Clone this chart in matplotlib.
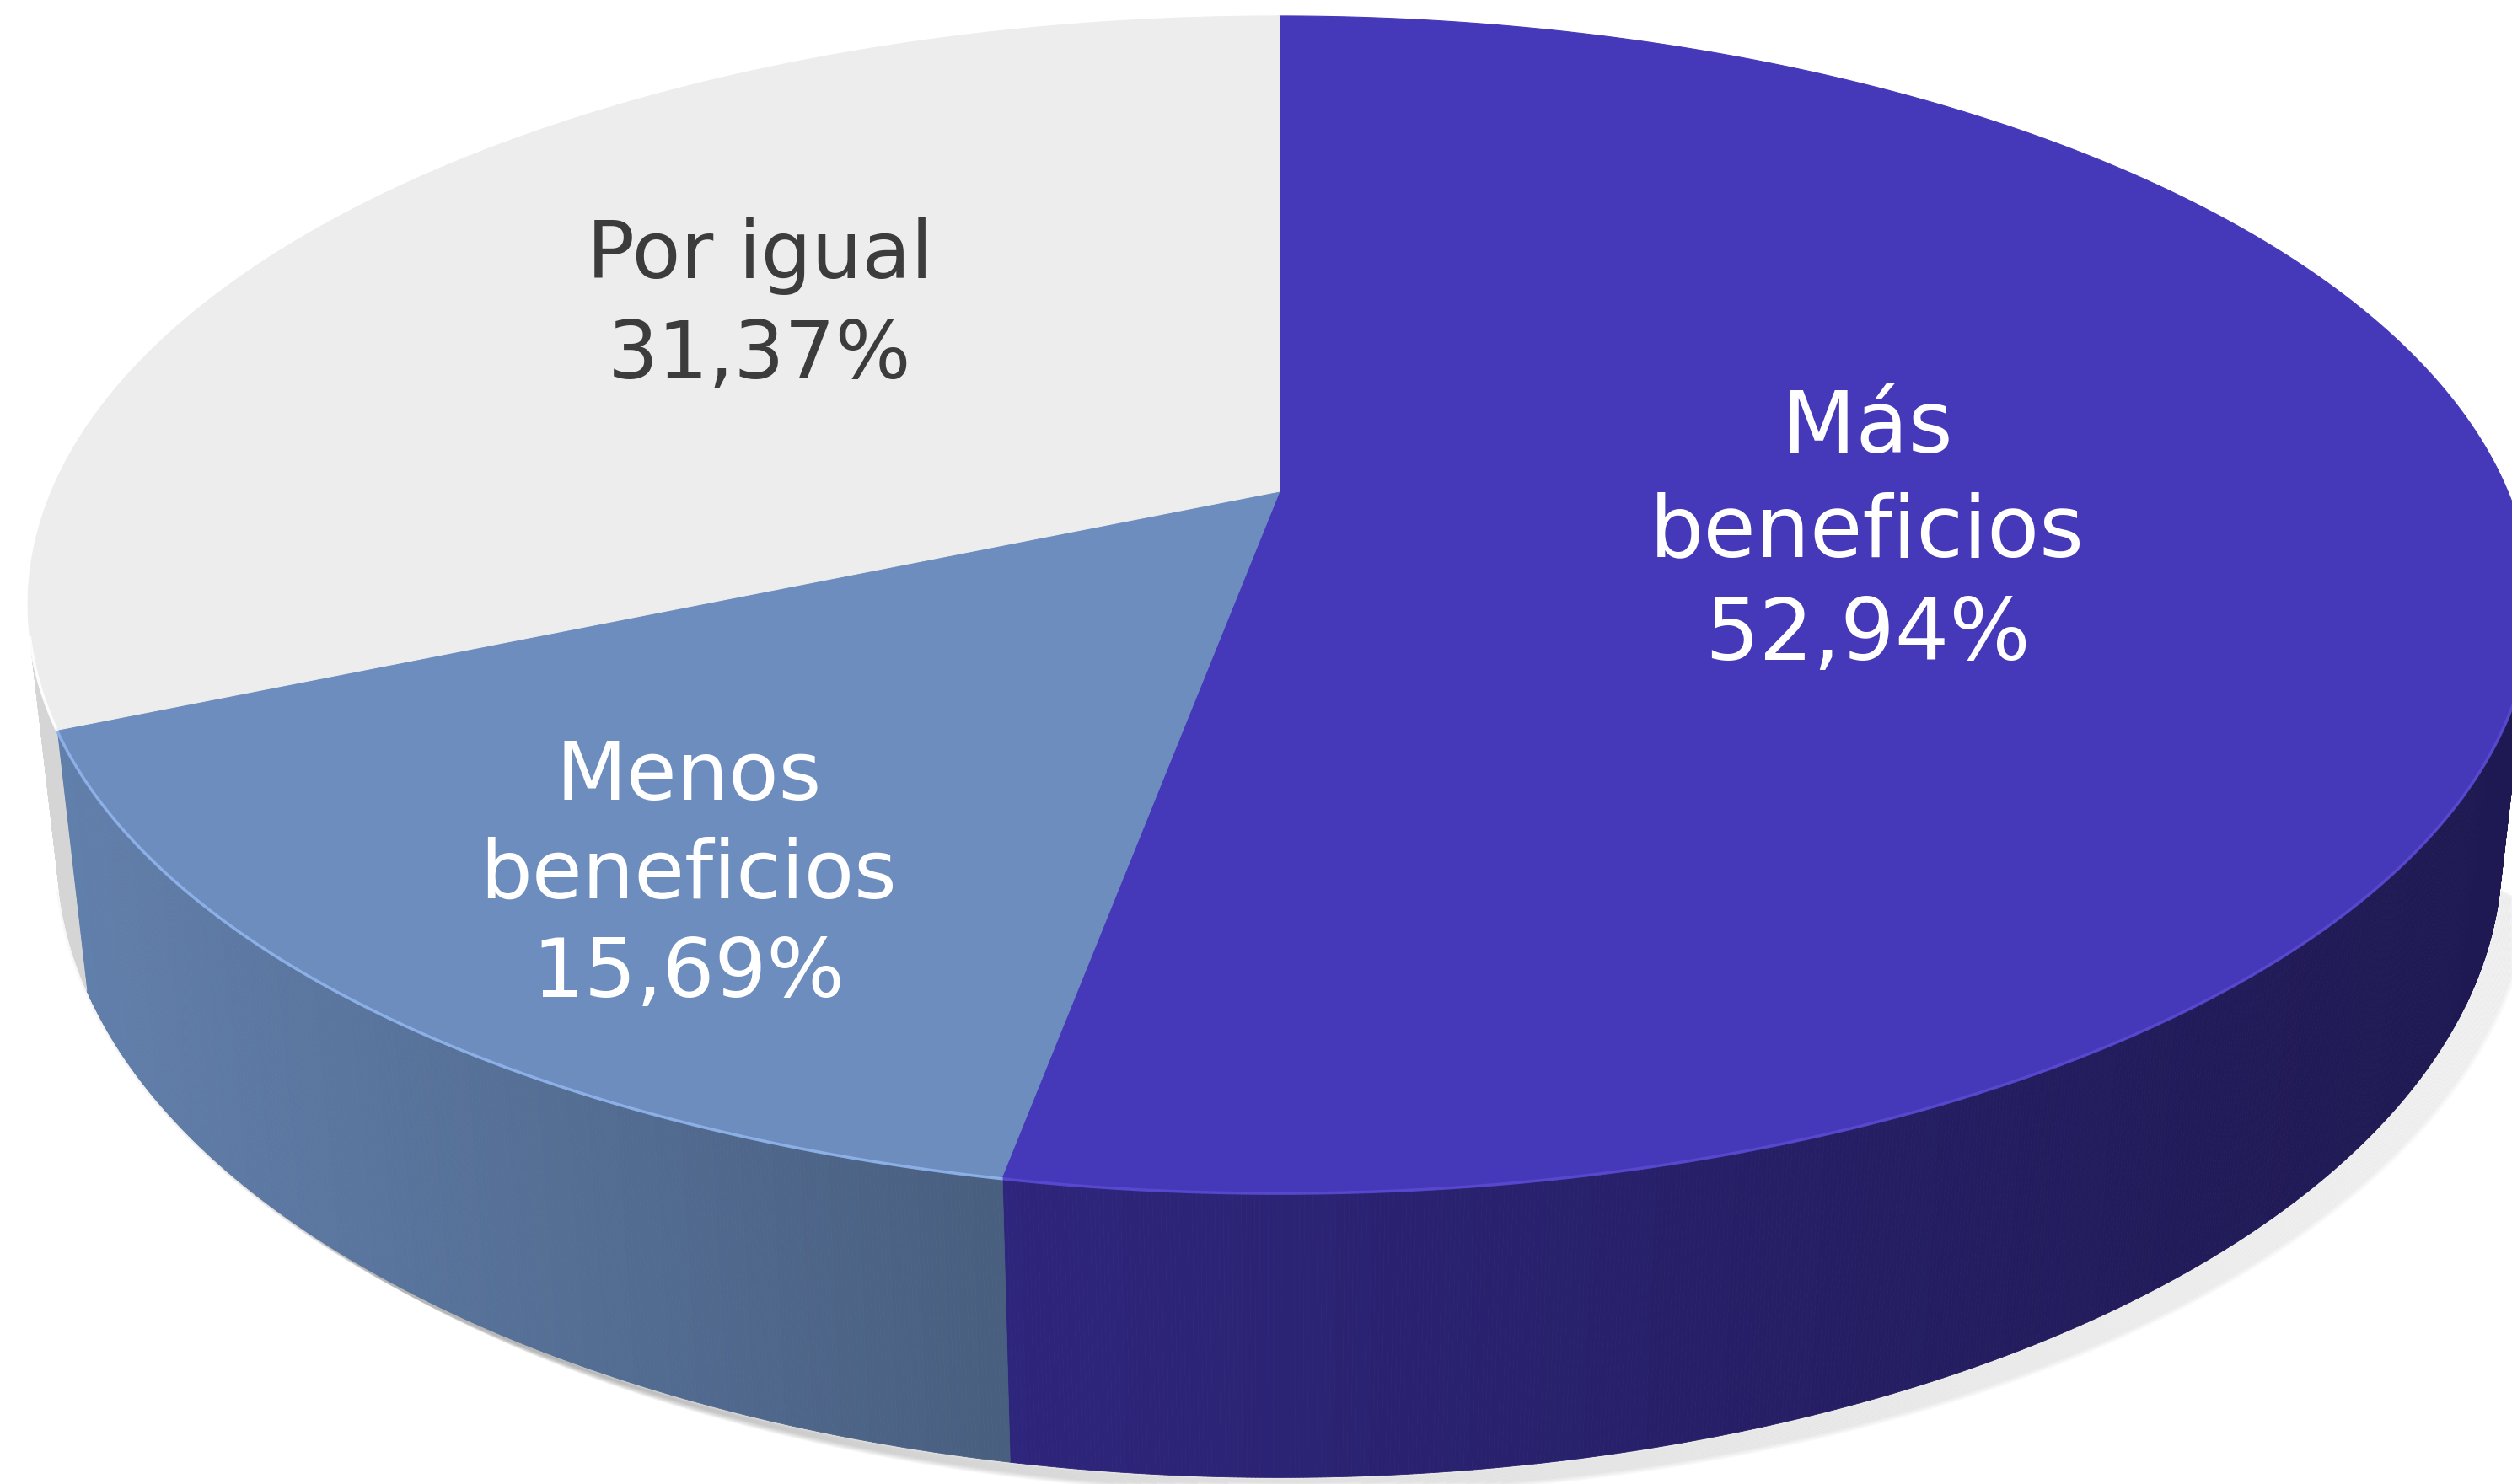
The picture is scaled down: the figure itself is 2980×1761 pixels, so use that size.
import numpy as np
import matplotlib.pyplot as plt
from matplotlib.collections import PolyCollection
from matplotlib.colors import to_rgb

# data
labels = ['Más\nbeneficios', 'Menos\nbeneficios', 'Por igual']
values = [52.94, 15.69, 31.37]
top_colors = ['#4538B9', '#6C8DBE', '#EDEDED']
rim_colors = ['#5A4BD2', '#90B4EC', '#FFFFFF']
text_colors = ['white', 'white', '#3C3C3C']

# camera / perspective set-up (pixel space of the output image)
CX, CY = 1518, 583          # where the slices meet
F = 6711.0                  # focal length in px (radius = 1)
D = 4.606                   # camera distance
PHI = np.arcsin(0.4617)     # elevation angle
H = 0.2317                  # thickness of the pie
cphi, sphi = np.cos(PHI), np.sin(PHI)


def project(x, y, z):
    depth = D + y * cphi - z * sphi
    up = y * sphi + z * cphi
    return CX + F * x / depth, CY - F * up / depth


def rim(t_deg, z=0.0, r=1.0):
    t = np.radians(t_deg)
    return project(r * np.sin(t), r * np.cos(t), z)


fig = plt.figure(figsize=(29.8, 17.61), dpi=100)
ax = fig.add_axes([0, 0, 1, 1])
ax.set_xlim(0, 2980)
ax.set_ylim(1761, 0)
ax.axis('off')

frac = np.array(values) / sum(values)
bounds = np.concatenate([[0], np.cumsum(frac) * 360])

# visible part of the outer wall
t_lim = np.degrees(np.arccos(-1 / (D * cphi)))
t_wall = np.linspace(t_lim, 360 - t_lim, 900)

# soft shadow under the pie (stronger towards the right)
bx, by = rim(t_wall, -H)
for i in range(14):
    ax.plot(bx + i * 2.6, by + i * 1.4, color='#808080', alpha=0.05,
            lw=5, solid_capstyle='round', zorder=1)

# outer wall, shaded by horizontal position
polys, cols = [], []
for a, b in zip(t_wall[:-1], t_wall[1:]):
    mid = (a + b) / 2
    idx = np.searchsorted(bounds, mid) - 1
    x0, y0 = rim(a)
    x1, y1 = rim(b)
    x2, y2 = rim(b, -H)
    x3, y3 = rim(a, -H)
    polys.append([(x0, y0), (x1, y1), (x2, y2), (x3, y3)])
    shade = np.interp((x0 + x1) / 2, [70, 1190, 2900], [0.9, 0.67, 0.45])
    cols.append(tuple(np.array(to_rgb(top_colors[idx])) * shade))
ax.add_collection(PolyCollection(polys, facecolors=cols, edgecolors=cols,
                                 linewidths=0.6, zorder=2))

# top face
for i in range(len(values)):
    tt = np.linspace(bounds[i], bounds[i + 1], 600)
    px, py = rim(tt)
    xs = np.concatenate([[CX], px])
    ys = np.concatenate([[CY], py])
    ax.fill(xs, ys, facecolor=top_colors[i], edgecolor=top_colors[i],
            lw=0.8, zorder=3)
    # light rim along the front edge
    tv = tt[(tt > t_lim) & (tt < 360 - t_lim)]
    if len(tv):
        hx, hy = rim(tv)
        ax.plot(hx, hy, color=rim_colors[i], lw=2.5, alpha=0.9, zorder=4)

# labels: position of first baseline, gap between baselines, font size
label_xy = [(2215, 537), (817, 949), (901, 330)]
line_gap = [123, 117, 119]
sizes = [73, 70, 68]
for i, lab in enumerate(labels):
    lines = lab.split('\n') + [f"{values[i]:.2f}%".replace('.', ',')]
    lx, ly = label_xy[i]
    for j, line in enumerate(lines):
        ax.text(lx, ly + j * line_gap[i], line, ha='center', va='baseline',
                color=text_colors[i], fontsize=sizes[i],
                family='DejaVu Sans', zorder=5)

fig.savefig('out.png', dpi=100, facecolor='white')
